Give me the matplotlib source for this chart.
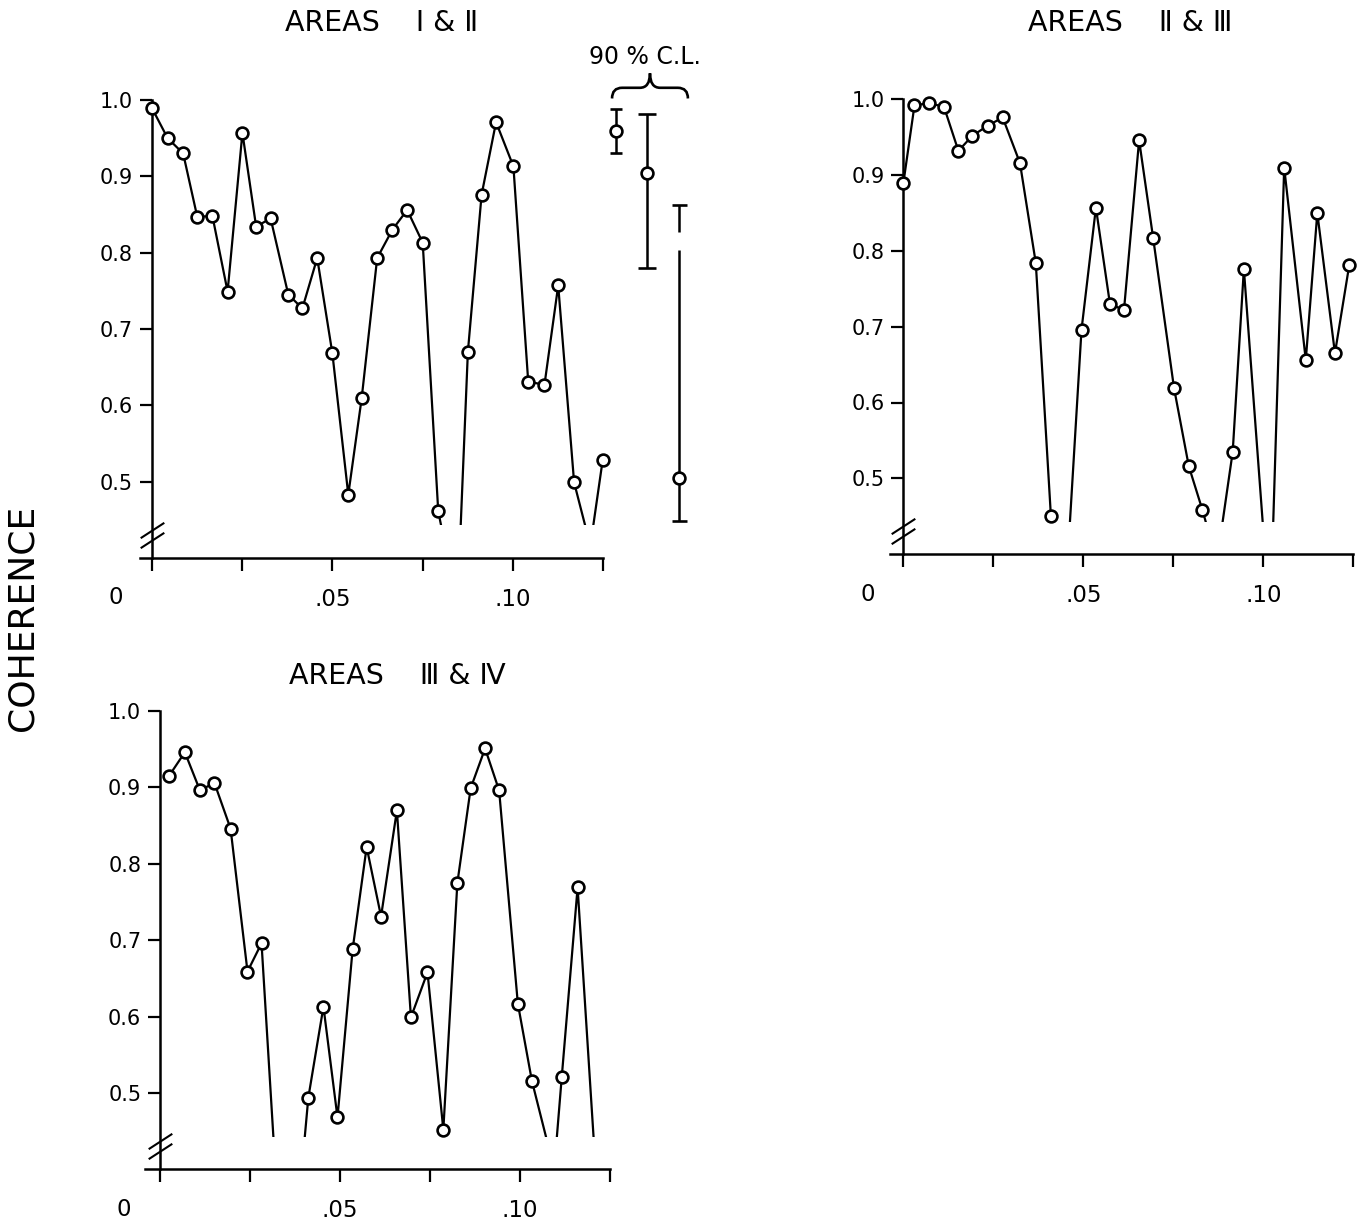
import numpy as np
import matplotlib.pyplot as plt
from matplotlib.patches import PathPatch
from matplotlib.path import Path

plt.rcParams['font.family'] = ['DejaVu Sans']

# coherence spectra (frequency in cycles per unit time); values under the
# axis break are kept so the lines run off the bottom of the panel
freq_12 = [0.0000, 0.0044, 0.0087, 0.0126, 0.0168, 0.0210, 0.0251, 0.0289,
           0.0329, 0.0378, 0.0417, 0.0458, 0.0500, 0.0544, 0.0581, 0.0624,
           0.0666, 0.0707, 0.0750, 0.0793, 0.0846, 0.0875, 0.0913, 0.0953,
           0.1001, 0.1042, 0.1087, 0.1125, 0.1169, 0.1214, 0.1248]
coh_12 = [0.990, 0.950, 0.930, 0.847, 0.848, 0.749, 0.957, 0.834,
          0.845, 0.745, 0.727, 0.793, 0.668, 0.483, 0.609, 0.793,
          0.830, 0.856, 0.813, 0.461, 0.338, 0.670, 0.876, 0.971,
          0.913, 0.631, 0.627, 0.757, 0.499, 0.416, 0.528]

freq_23 = [0.0000, 0.0031, 0.0072, 0.0113, 0.0153, 0.0192, 0.0234, 0.0276,
           0.0324, 0.0368, 0.0410, 0.0452, 0.0495, 0.0535, 0.0574, 0.0613,
           0.0655, 0.0694, 0.0752, 0.0793, 0.0831, 0.0871, 0.0915, 0.0946,
           0.1019, 0.1058, 0.1118, 0.1150, 0.1199, 0.1239]
coh_23 = [0.889, 0.992, 0.995, 0.990, 0.932, 0.952, 0.965, 0.976,
          0.916, 0.784, 0.450, 0.357, 0.696, 0.857, 0.730, 0.722,
          0.946, 0.817, 0.619, 0.516, 0.458, 0.390, 0.535, 0.776,
          0.310, 0.910, 0.656, 0.850, 0.665, 0.782]

freq_34 = [0.0025, 0.0069, 0.0111, 0.0151, 0.0196, 0.0243, 0.0282, 0.0325,
           0.0369, 0.0412, 0.0454, 0.0493, 0.0535, 0.0574, 0.0614, 0.0658,
           0.0697, 0.0743, 0.0787, 0.0826, 0.0863, 0.0903, 0.0942, 0.0994,
           0.1033, 0.1095, 0.1116, 0.1160, 0.1206]
coh_34 = [0.915, 0.946, 0.896, 0.906, 0.846, 0.659, 0.696, 0.365,
          0.270, 0.494, 0.613, 0.468, 0.688, 0.822, 0.731, 0.870,
          0.599, 0.658, 0.452, 0.775, 0.899, 0.951, 0.896, 0.617,
          0.516, 0.400, 0.521, 0.769, 0.430]

# 90% confidence limits at three coherence levels
cl_mid = [0.960, 0.904, 0.505]
cl_low = [0.930, 0.780, 0.448]
cl_high = [0.988, 0.982, 0.862]

y_ticks = [0.5, 0.6, 0.7, 0.8, 0.9, 1.0]
y_labels = ['0.5', '0.6', '0.7', '0.8', '0.9', '1.0']
x_ticks = [0, 0.025, 0.05, 0.075, 0.10, 0.125]
x_labels = ['', '', '.05', '', '.10', '']

CUT = 0.443      # lines stop here, just above the axis break
Y_BOTTOM = 0.40
W, H = 1357, 1225

fig = plt.figure(figsize=(W / 100, H / 100), dpi=100)


def add_axes_px(x0, x1, y_top, y_bot):
    return fig.add_axes([x0 / W, 1 - y_bot / H, (x1 - x0) / W, (y_bot - y_top) / H])


def draw_panel(ax, freq, coh, xlim):
    freq = np.asarray(freq)
    coh = np.asarray(coh)
    ax.set_xlim(*xlim)
    ax.set_ylim(Y_BOTTOM, 1.0)

    line, = ax.plot(freq, coh, color='k', lw=1.6, zorder=2)
    line.set_clip_path(ax.add_patch(plt.Rectangle(
        (xlim[0], CUT), xlim[1] - xlim[0], 1.0, transform=ax.transData,
        fill=False, lw=0, visible=False)))
    shown = coh >= CUT
    ax.plot(freq[shown], coh[shown], 'o', ms=8.5, mfc='white', mec='k',
            mew=1.9, clip_on=False, zorder=3)

    for s in ('top', 'right'):
        ax.spines[s].set_visible(False)
    ax.spines['left'].set_position(('data', 0))
    ax.spines['left'].set_bounds(Y_BOTTOM, 1.0)
    ax.spines['bottom'].set_bounds(xlim[0], 0.125)
    for s in ('left', 'bottom'):
        ax.spines[s].set_linewidth(1.8)

    ax.set_yticks(y_ticks)
    ax.set_yticklabels(y_labels, fontsize=15)
    ax.set_xticks(x_ticks)
    ax.set_xticklabels(x_labels, fontsize=16.5)
    ax.tick_params(axis='x', direction='out', length=9.5, width=1.6, pad=12)
    ax.tick_params(axis='y', direction='out', length=8.5, width=1.6, pad=5)
    ax.annotate('0', xy=(0, Y_BOTTOM), xytext=(-36, -40),
                textcoords='offset pixels', ha='center', va='center',
                fontsize=16.5)

    # axis break
    ax.plot([0, 0], [0.424, 0.437], ls='none', marker=[(-1, -0.65), (1, 0.65)],
            ms=17, mec='k', mew=1.5, clip_on=False)


ax1 = add_axes_px(139.8, 693.7, 100.0, 558.0)
draw_panel(ax1, freq_12, coh_12, (-0.0033, 0.150))

ax2 = add_axes_px(890.0, 1355.1, 99.3, 554.1)
draw_panel(ax2, freq_23, coh_23, (-0.0037, 0.1255))

ax3 = add_axes_px(144.9, 617.2, 711.0, 1169.4)
draw_panel(ax3, freq_34, coh_34, (-0.0042, 0.127))

# confidence-limit bars next to the first panel
cl_pos = [0.1285, 0.1372, 0.1458]
cl_caps = [4.3, 6.5, 5.4]
for xp, m, lo, hi, cap in zip(cl_pos, cl_mid, cl_low, cl_high, cl_caps):
    ax1.errorbar([xp], [m], yerr=[[m - lo], [hi - m]], fmt='o', ms=8.5,
                 mfc='white', mec='k', mew=1.9, ecolor='k', elinewidth=1.8,
                 capsize=cap, capthick=1.9, clip_on=False, zorder=3)
# pen gap in the widest bar
ax1.plot([cl_pos[2], cl_pos[2]], [0.803, 0.827], color='white', lw=5,
         solid_capstyle='butt', clip_on=False, zorder=4)

ax1.text(0.1365, 1.056, '90 % C.L.', ha='center', va='center',
         fontsize=17, clip_on=False)
xl, xr, xc = 0.1274, 0.1484, 0.1379
y_end, y_bar, y_tip = 1.002, 1.016, 1.035
d = 0.0028
brace = Path(
    [(xl, y_end), (xl, y_bar), (xl + d, y_bar), (xc - d, y_bar),
     (xc, y_bar), (xc, y_tip), (xc, y_bar), (xc + d, y_bar),
     (xr - d, y_bar), (xr, y_bar), (xr, y_end)],
    [Path.MOVETO, Path.CURVE3, Path.CURVE3, Path.LINETO,
     Path.CURVE3, Path.CURVE3, Path.CURVE3, Path.CURVE3,
     Path.LINETO, Path.CURVE3, Path.CURVE3])
ax1.add_patch(PathPatch(brace, fill=False, lw=1.9, clip_on=False))

# titles and shared axis label
title_kw = dict(ha='center', va='center', fontsize=20.5)
fig.text(382 / W, 1 - 23 / H, 'AREAS    \u2160 & \u2161', **title_kw)
fig.text(1130 / W, 1 - 23 / H, 'AREAS    \u2161 & \u2162', **title_kw)
fig.text(397 / W, 1 - 676 / H, 'AREAS    \u2162 & \u2163', **title_kw)
fig.text(23 / W, 1 - 618 / H, 'COHERENCE', rotation=90, ha='center',
         va='center', fontsize=26)

fig.savefig('out.png', dpi=100)
